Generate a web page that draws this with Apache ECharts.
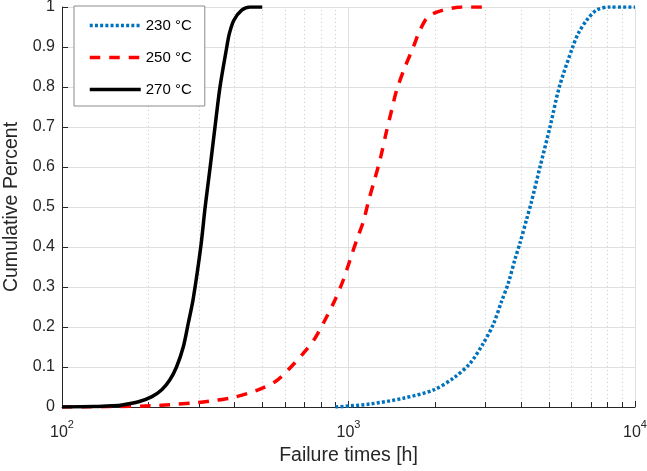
<!DOCTYPE html>
<html>
<head>
<meta charset="utf-8">
<script src="https://cdn.jsdelivr.net/npm/echarts@6/dist/echarts.min.js"></script>
<style>
html,body{margin:0;padding:0;background:#ffffff;}
#chart{width:647px;height:471px;}
</style>
</head>
<body>
<div id="chart"></div>
<script>
// ---- data ----
const seriesNames = ['230 °C', '250 °C', '270 °C'];

const t230 = [900, 1189, 1554, 1977, 2322, 2655, 2954, 3203, 3425, 3613, 3813, 3968, 4188, 4340, 4660, 5050, 5443, 6061, 6341, 6783, 7350, 8180, 10000];
const p230 = [0.0, 0.0075, 0.022, 0.0425, 0.072, 0.109, 0.159, 0.207, 0.265, 0.31, 0.37, 0.41, 0.47, 0.51, 0.60, 0.70, 0.80, 0.90, 0.934, 0.967, 0.9925, 1.0, 1.0];

const t250 = [100, 150, 206, 241, 287, 337, 391, 472, 554, 616, 695, 764, 828, 897, 959, 1012, 1068, 1126, 1173, 1227, 1288, 1352, 1415, 1473, 1575, 1684, 1777, 1899, 2142, 2516, 3000];
const p250 = [0.0, 0.001, 0.003, 0.006, 0.010, 0.016, 0.023, 0.040, 0.063, 0.093, 0.134, 0.172, 0.2175, 0.2675, 0.3175, 0.3675, 0.4175, 0.463, 0.513, 0.563, 0.6175, 0.684, 0.7425, 0.7925, 0.85, 0.90, 0.9425, 0.976, 0.9925, 1.0, 1.0];

const t270 = [100, 130, 150, 162, 185, 206, 223, 238, 251, 265, 276, 287, 305, 316, 329, 342, 356, 376, 384, 398, 424, 453, 500];
const p270 = [0.0, 0.001, 0.003, 0.005, 0.013, 0.026, 0.043, 0.068, 0.10, 0.15, 0.21, 0.27, 0.40, 0.50, 0.60, 0.70, 0.80, 0.90, 0.934, 0.967, 0.992, 1.0, 1.0];

const minorTicks = [200, 300, 400, 500, 600, 700, 800, 900, 2000, 3000, 4000, 5000, 6000, 7000, 8000, 9000];

// ---- chart ----
const FONT = '"Liberation Sans", Arial, Helvetica, sans-serif';
const AX = '#262626';
const zip = (t, p) => t.map((v, i) => [v, p[i]]);

const chart = echarts.init(document.getElementById('chart'), null, {renderer: 'canvas'});

const option = {
  animation: false,
  backgroundColor: '#ffffff',
  textStyle: {fontFamily: FONT},
  grid: {left: 62, right: 12, top: 7, bottom: 64, containLabel: false, outerBoundsMode: 'none'},
  legend: {
    data: seriesNames,
    orient: 'vertical',
    left: 74,
    top: 6,
    padding: [12, 13, 9, 14],
    itemWidth: 51,
    itemHeight: 14,
    itemGap: 17,
    backgroundColor: '#ffffff',
    borderColor: '#8c8c8c',
    borderWidth: 1,
    borderRadius: 0,
    itemStyle: {opacity: 0},
    lineStyle: {width: 3.5},
    textStyle: {fontSize: 15, color: '#000000', fontFamily: FONT}
  },
  xAxis: {
    type: 'log',
    logBase: 10,
    min: 100,
    max: 10000,
    name: 'Failure times [h]',
    nameLocation: 'middle',
    nameGap: 39,
    nameTextStyle: {fontSize: 19.5, color: AX, fontFamily: FONT},
    axisLine: {show: true, onZero: false, lineStyle: {color: AX, width: 1}},
    axisTick: {show: true, inside: true, length: 6, lineStyle: {color: AX, width: 1}},
    axisLabel: {
      margin: 12,
      formatter: function (v) { return '{b|10}{s|' + Math.round(Math.log10(v)) + '}'; },
      rich: {
        b: {fontSize: 16, color: AX, fontFamily: FONT, padding: [6, 0, 0, 0]},
        s: {fontSize: 11, color: AX, fontFamily: FONT, verticalAlign: 'top'}
      }
    },
    splitLine: {show: true, lineStyle: {color: '#dfdfdf', width: 1}}
  },
  yAxis: {
    type: 'value',
    min: 0,
    max: 1,
    interval: 0.1,
    name: 'Cumulative Percent',
    nameLocation: 'middle',
    nameGap: 32,
    nameTextStyle: {fontSize: 19.5, color: AX, fontFamily: FONT},
    axisLine: {show: true, lineStyle: {color: AX, width: 1}},
    axisTick: {show: true, inside: true, length: 6, lineStyle: {color: AX, width: 1}},
    axisLabel: {fontSize: 16, color: AX, margin: 7, fontFamily: FONT},
    splitLine: {show: true, lineStyle: {color: '#dfdfdf', width: 1}}
  },
  series: [
    {
      type: 'custom',
      silent: true,
      z: 1,
      data: minorTicks.map(v => [v, 0]),
      encode: {x: 0, y: 1},
      renderItem: function (params, api) {
        const x = api.value(0);
        const p0 = api.coord([x, 0]);
        const p1 = api.coord([x, 1]);
        const px = Math.round(p0[0]) + 0.5;
        return {
          type: 'group',
          children: [
            {type: 'line', shape: {x1: px, y1: p0[1], x2: px, y2: p1[1]},
             style: {stroke: '#cccccc', lineWidth: 1, lineDash: [1, 3]}},
            {type: 'line', shape: {x1: px, y1: p0[1], x2: px, y2: p0[1] - 5},
             style: {stroke: AX, lineWidth: 1}}
          ]
        };
      }
    },
    {
      name: seriesNames[0], type: 'line', z: 3,
      data: zip(t230, p230),
      showSymbol: false, symbol: 'none', smooth: 0.3,
      color: '#0072BD',
      lineStyle: {color: '#0072BD', width: 3.5, type: [3, 2.2], cap: 'butt'}
    },
    {
      name: seriesNames[1], type: 'line', z: 4,
      data: zip(t250, p250),
      showSymbol: false, symbol: 'none', smooth: 0.3,
      color: '#FF0000',
      lineStyle: {color: '#FF0000', width: 3.5, type: [10.5, 9], cap: 'butt'}
    },
    {
      name: seriesNames[2], type: 'line', z: 5,
      data: zip(t270, p270),
      showSymbol: false, symbol: 'none', smooth: 0.3,
      color: '#000000',
      lineStyle: {color: '#000000', width: 3.5, type: 'solid'}
    }
  ]
};

chart.setOption(option);
</script>
</body>
</html>
